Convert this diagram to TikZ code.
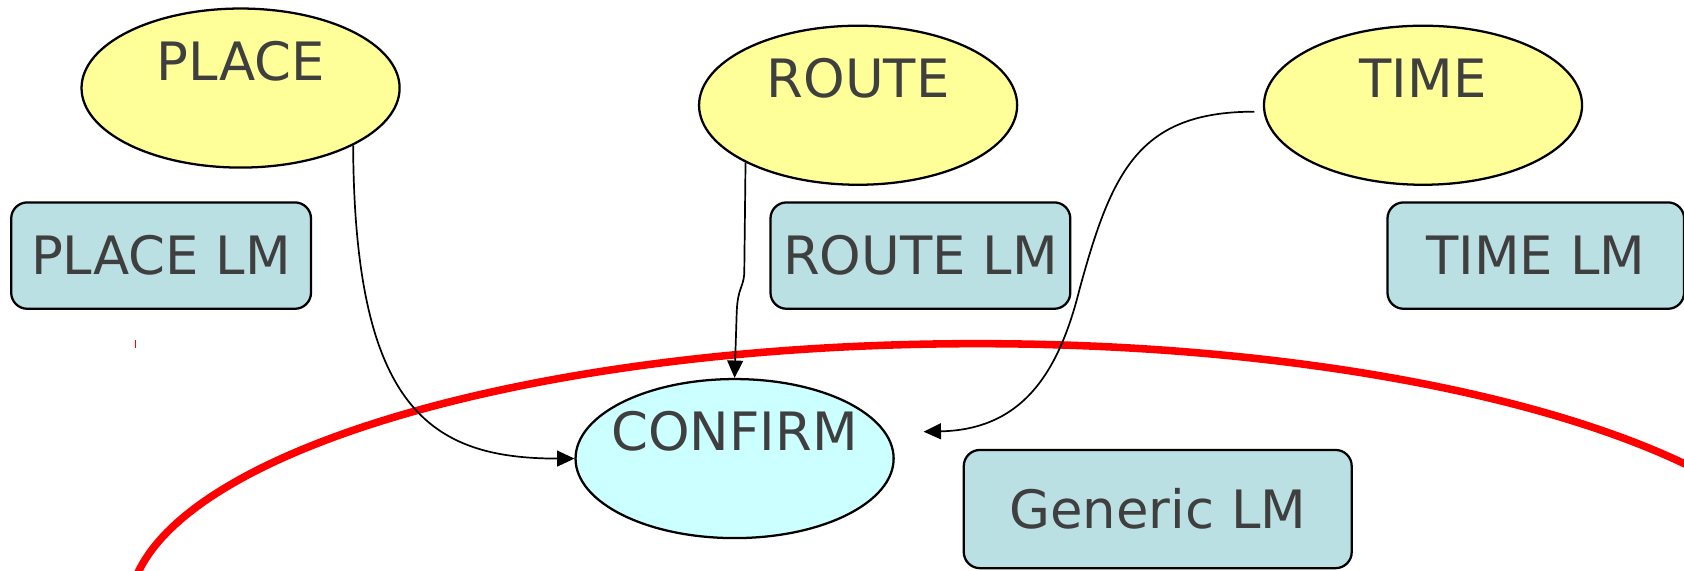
\documentclass[tikz,border=0pt]{standalone}
\usepackage{fontspec}
\setmainfont{DejaVu Sans}
\usetikzlibrary{arrows.meta,shapes.geometric}
\definecolor{slotfill}{HTML}{FFFF99}
\definecolor{actfill}{HTML}{CCFFFF}
\definecolor{lmfill}{HTML}{BBE0E3}
\definecolor{lbltext}{HTML}{3F3F3F}
\tikzset{
  lbl/.style={text=lbltext,font=\fontsize{14}{17}\selectfont},
  slot/.style={ellipse,draw,line width=0.6pt,fill=slotfill,minimum width=2.96cm,
    minimum height=1.48cm,inner sep=0pt,label={[lbl,yshift=0.25cm]center:#1}},
  act/.style={slot=#1,fill=actfill},
  lmbox/.style={draw,line width=0.6pt,fill=lmfill,rounded corners=0.15cm,
    minimum width=2.79cm,minimum height=0.99cm,lbl},
  link/.style={-{Triangle[length=4.6pt,width=4.2pt]},line width=0.45pt},
}
\begin{document}
\begin{tikzpicture}[x=0.01cm,y=-0.01cm]
\path[use as bounding box,clip] (0,0) rectangle (1568,531);
\draw[red,line width=2pt] (910,570) ellipse [x radius=790,y radius=250];
\draw[red,line width=0.4pt] (126,317) -- (126,324);
\node[slot=PLACE] (place) at (224,82) {};
\node[slot=ROUTE] (route) at (799,98) {};
\node[slot=TIME] (time) at (1325,98) {};
\node[act=CONFIRM] (confirm) at (684,427) {};
\node[lmbox] (placelm) at (150,238) {PLACE LM};
\node[lmbox] (routelm) at (857,238) {ROUTE LM};
\node[lmbox,minimum width=2.76cm] (timelm) at (1430,238) {TIME LM};
\node[lmbox,minimum width=3.61cm,minimum height=1.10cm] (genericlm) at (1078,474) {Generic LM};
\coordinate (timefrom) at ([xshift=-0.08cm,yshift=-0.06cm]time.west);
\coordinate (timeto) at (860,402);
\draw[link] (place.-27) .. controls (330,380) and (400,427) .. (confirm.west);
\draw[link] (route.207) -- (693,255) .. controls (692,268) and (687,268) .. (686,290) -- (confirm.north);
\draw[link] (timefrom) .. controls (1060,104) and (1035,160) .. (1005,270)
  .. controls (985,350) and (950,400) .. (timeto);
\end{tikzpicture}
\end{document}
